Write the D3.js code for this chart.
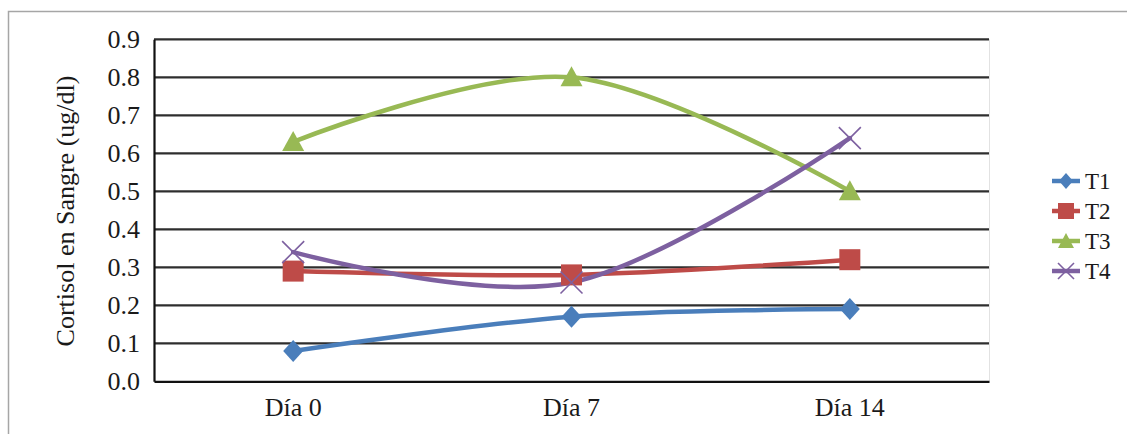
<!DOCTYPE html>
<html>
<head>
<meta charset="utf-8">
<script src="https://cdn.jsdelivr.net/npm/d3@7"></script>
<style>
  html, body { margin: 0; padding: 0; background: #fff; }
  svg { display: block; }
</style>
</head>
<body>
<svg id="chart" width="1127" height="434"></svg>
<script>
// Días de muestreo
const days = ["Día 0", "Día 7", "Día 14"];

// Cortisol en sangre (ug/dl) por tratamiento
const t1 = [0.08, 0.17, 0.19];
const t2 = [0.29, 0.28, 0.32];
const t3 = [0.63, 0.80, 0.50];
const t4 = [0.34, 0.26, 0.64];

const seriesNames = ["T1", "T2", "T3", "T4"];
const yTicks = [0, 0.1, 0.2, 0.3, 0.4, 0.5, 0.6, 0.7, 0.8, 0.9];

const series = [
  { name: seriesNames[0], values: t1, color: "#4a7ebb", symbol: "diamond" },
  { name: seriesNames[1], values: t2, color: "#be4b48", symbol: "square" },
  { name: seriesNames[2], values: t3, color: "#98b954", symbol: "triangle" },
  { name: seriesNames[3], values: t4, color: "#7d60a0", symbol: "cross" }
];

const FONT = "Liberation Serif";
const TEXT = "#1a1a1a";

const svg = d3.select("#chart");
const plot = { left: 154, right: 989, top: 39.3, bottom: 381.3 };

// Outer chart frame
svg.append("path")
  .attr("d", "M8.5,434 L8.5,11.5 L1127,11.5")
  .attr("fill", "none")
  .attr("stroke", "#a6a6a6")
  .attr("stroke-width", 1.5);

const x = d3.scaleBand().domain(days).range([plot.left, plot.right]).padding(0);
const y = d3.scaleLinear().domain([0, 0.9]).range([plot.bottom, plot.top]);
const cx = d => x(d) + x.bandwidth() / 2;

// Plot area right edge
svg.append("line")
  .attr("x1", plot.right + 0.5).attr("x2", plot.right + 0.5)
  .attr("y1", plot.top).attr("y2", plot.bottom)
  .attr("stroke", "#e2e2e2").attr("stroke-width", 1);

// Horizontal gridlines
svg.append("g")
  .selectAll("line")
  .data(yTicks.filter(v => v > 0))
  .join("line")
  .attr("x1", plot.left).attr("x2", plot.right)
  .attr("y1", d => y(d)).attr("y2", d => y(d))
  .attr("stroke", "#2e2e2e")
  .attr("stroke-width", 2.2);

// Y axis
const yAxis = svg.append("g")
  .attr("transform", `translate(${plot.left},0)`)
  .call(d3.axisLeft(y).tickValues(yTicks).tickFormat(d3.format(".1f")).tickSize(0).tickPadding(14));
yAxis.attr("font-family", FONT).attr("font-size", 26);
yAxis.select(".domain").attr("stroke", "#111").attr("stroke-width", 2.2);
yAxis.selectAll("text").attr("font-family", FONT).attr("fill", TEXT);

// X axis
const xAxis = svg.append("g")
  .attr("transform", `translate(0,${plot.bottom})`)
  .call(d3.axisBottom(x).tickSize(0).tickPadding(16));
xAxis.attr("font-family", FONT).attr("font-size", 26);
xAxis.select(".domain").attr("stroke", "#111").attr("stroke-width", 2.2);
xAxis.selectAll("text").attr("font-family", FONT).attr("fill", TEXT);

// Y axis title
svg.append("text")
  .attr("transform", "translate(74,211) rotate(-90)")
  .attr("text-anchor", "middle")
  .attr("font-family", FONT)
  .attr("font-size", 26)
  .attr("fill", TEXT)
  .text("Cortisol en Sangre (ug/dl)");

// Smoothed series lines
const line = d3.line()
  .x((d, i) => cx(days[i]))
  .y(d => y(d))
  .curve(d3.curveCardinal.tension(0));

function drawMarker(g, type, color, px, py) {
  if (type === "diamond") {
    g.append("path")
      .attr("d", `M${px},${py - 11} L${px + 10},${py} L${px},${py + 11} L${px - 10},${py} Z`)
      .attr("fill", color);
  } else if (type === "square") {
    g.append("rect")
      .attr("x", px - 10.5).attr("y", py - 10.5)
      .attr("width", 21).attr("height", 21)
      .attr("fill", color);
  } else if (type === "triangle") {
    g.append("path")
      .attr("d", `M${px},${py - 11} L${px + 11},${py + 9} L${px - 11},${py + 9} Z`)
      .attr("fill", color);
  } else {
    g.append("path")
      .attr("d", `M${px - 11},${py - 11} L${px + 11},${py + 11} M${px - 11},${py + 11} L${px + 11},${py - 11}`)
      .attr("stroke", color).attr("stroke-width", 1.6).attr("fill", "none");
  }
}

const marks = svg.append("g");
series.forEach(s => {
  marks.append("path")
    .datum(s.values)
    .attr("d", line)
    .attr("fill", "none")
    .attr("stroke", s.color)
    .attr("stroke-width", 4.5)
    .attr("stroke-linecap", "round");
});
series.forEach(s => {
  const g = marks.append("g");
  s.values.forEach((v, i) => drawMarker(g, s.symbol, s.color, cx(days[i]), y(v)));
});

// Legend
const legend = svg.append("g");
series.forEach((s, i) => {
  const ly = 181 + i * 30;
  const g = legend.append("g");
  g.append("line")
    .attr("x1", 1052).attr("x2", 1080)
    .attr("y1", ly).attr("y2", ly)
    .attr("stroke", s.color).attr("stroke-width", 4.5);
  const m = g.append("g");
  if (s.symbol === "cross") {
    m.append("path")
      .attr("d", `M1058,${ly - 8} L1074,${ly + 8} M1058,${ly + 8} L1074,${ly - 8}`)
      .attr("stroke", s.color).attr("stroke-width", 1.6);
  } else if (s.symbol === "diamond") {
    m.append("path")
      .attr("d", `M1066,${ly - 8} L1073,${ly} L1066,${ly + 8} L1059,${ly} Z`)
      .attr("fill", s.color);
  } else if (s.symbol === "square") {
    m.append("rect").attr("x", 1058).attr("y", ly - 8).attr("width", 16).attr("height", 16).attr("fill", s.color);
  } else {
    m.append("path")
      .attr("d", `M1066,${ly - 8} L1074,${ly + 7} L1058,${ly + 7} Z`)
      .attr("fill", s.color);
  }
  g.append("text")
    .attr("x", 1085).attr("y", ly)
    .attr("dy", "0.35em")
    .attr("font-family", FONT)
    .attr("font-size", 23)
    .attr("fill", TEXT)
    .text(s.name);
});
</script>
</body>
</html>
